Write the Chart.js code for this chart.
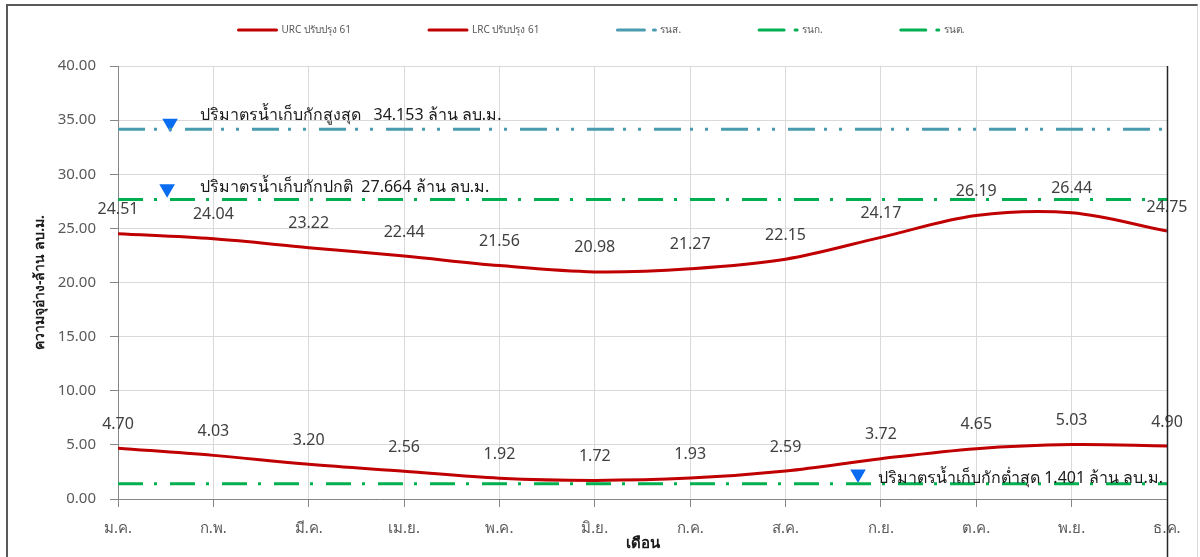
<!DOCTYPE html>
<html>
<head>
<meta charset="utf-8">
<script src="https://cdn.jsdelivr.net/npm/chart.js@4.4.0/dist/chart.umd.min.js"></script>
<style>
  html, body { margin: 0; padding: 0; background: #fff; }
  #wrap { position: relative; width: 1200px; height: 557px; overflow: hidden; }
  #frame { position: absolute; left: 6px; top: 4px; width: 1192px; height: 600px;
           border-top: 2px solid #595959; border-left: 2px solid #595959; border-right: 1px solid #d9d9d9; box-sizing: border-box; }
  canvas { position: absolute; left: 0; top: 0; }
</style>
</head>
<body>
<div id="wrap">
  <div id="frame"></div>
  <canvas id="c" width="1200" height="557"></canvas>
</div>
<script>
// ---- data ----
const months = ['ม.ค.', 'ก.พ.', 'มี.ค.', 'เม.ย.', 'พ.ค.', 'มิ.ย.', 'ก.ค.', 'ส.ค.', 'ก.ย.', 'ต.ค.', 'พ.ย.', 'ธ.ค.'];
const urc = [24.51, 24.04, 23.22, 22.44, 21.56, 20.98, 21.27, 22.15, 24.17, 26.19, 26.44, 24.75];
const lrc = [4.70, 4.03, 3.20, 2.56, 1.92, 1.72, 1.93, 2.59, 3.72, 4.65, 5.03, 4.90];
const maxStorage = 34.153;
const normalStorage = 27.664;
const minStorage = 1.401;
const seriesNames = ['URC ปรับปรุง 61', 'LRC ปรับปรุง 61', 'รนส.', 'รนก.', 'รนต.'];
const yTicks = [0, 5, 10, 15, 20, 25, 30, 35, 40];
const annotText = ['ปริมาตรน้ำเก็บกักสูงสุด   34.153 ล้าน ลบ.ม.', 'ปริมาตรน้ำเก็บกักปกติ  27.664 ล้าน ลบ.ม.', 'ปริมาตรน้ำเก็บกักต่ำสุด 1.401 ล้าน ลบ.ม.'];
const annotMarkX = [0.546, 0.515, 7.76];
const annotMarkY = [34.72, 28.66, 2.31];
const annotTextX = [0.86, 0.86, 7.97];
const annotTextY = [35.46, 28.8, 1.94];

const FONT = "'Noto Sans', 'DejaVu Sans', sans-serif";

const pts = arr => arr.map((v, i) => ({ x: i, y: v }));
const flat = v => months.map((m, i) => ({ x: i, y: v }));

const BLUE_DASH = [27, 9, 3, 12, 3, 13];
const GREEN_DASH = [25, 11, 3, 13];

const datasets = [
  { label: seriesNames[0], data: pts(urc), borderColor: '#c00000', borderWidth: 3, tension: 0.35, pointRadius: 0, showLabels: true },
  { label: seriesNames[1], data: pts(lrc), borderColor: '#c00000', borderWidth: 3, tension: 0.35, pointRadius: 0, showLabels: true },
  { label: seriesNames[2], data: flat(maxStorage), borderColor: '#4a9bb0', borderWidth: 3, borderDash: BLUE_DASH, pointRadius: 0 },
  { label: seriesNames[3], data: flat(normalStorage), borderColor: '#00b050', borderWidth: 3, borderDash: GREEN_DASH, pointRadius: 0 },
  { label: seriesNames[4], data: flat(minStorage), borderColor: '#00b050', borderWidth: 3, borderDash: GREEN_DASH, pointRadius: 0 },
  { label: 'marks', data: annotMarkX.map((x, i) => ({ x: x, y: annotMarkY[i] })), showLine: false,
    pointStyle: 'triangle', rotation: 180, pointRadius: 9, pointHoverRadius: 9,
    backgroundColor: '#0a6cf0', borderColor: '#0a6cf0', borderWidth: 0, isMarker: true }
];

const labelPlugin = {
  id: 'valueLabels',
  afterDatasetsDraw(chart) {
    const ctx = chart.ctx;
    ctx.save();
    ctx.font = '16px ' + FONT;
    ctx.fillStyle = '#404040';
    ctx.textAlign = 'center';
    ctx.textBaseline = 'middle';
    chart.data.datasets.forEach((ds, di) => {
      if (!ds.showLabels) return;
      const meta = chart.getDatasetMeta(di);
      meta.data.forEach((pt, i) => {
        ctx.fillText(ds.data[i].y.toFixed(2), pt.x, pt.y - 24);
      });
    });
    // annotation texts
    const xs = chart.scales.x, ys = chart.scales.y;
    ctx.font = '16px ' + FONT;
    ctx.fillStyle = '#1a1a1a';
    ctx.textAlign = 'left';
    annotText.forEach((t, i) => {
      ctx.fillText(t, xs.getPixelForValue(annotTextX[i]), ys.getPixelForValue(annotTextY[i]));
    });
    // right plot edge line
    ctx.strokeStyle = '#262626';
    ctx.lineWidth = 1.5;
    ctx.beginPath();
    ctx.moveTo(chart.chartArea.right + 0.5, chart.chartArea.top);
    ctx.lineTo(chart.chartArea.right + 0.5, chart.height);
    ctx.stroke();
    ctx.restore();
  }
};

const legendPlugin = {
  id: 'customLegend',
  afterDraw(chart) {
    const ctx = chart.ctx;
    ctx.save();
    ctx.font = '10px ' + FONT;
    ctx.textBaseline = 'middle';
    const items = chart.data.datasets.filter(d => !d.isMarker);
    const mw = 40, tg = 4, gap = 77;
    const widths = items.map(d => mw + tg + ctx.measureText(d.label).width);
    const total = widths.reduce((a, b) => a + b, 0) + gap * (items.length - 1);
    let x = 601 - total / 2;
    const y = 30;
    items.forEach((d, i) => {
      ctx.strokeStyle = d.borderColor;
      ctx.lineWidth = 3;
      ctx.lineCap = 'round';
      ctx.setLineDash(d.borderDash || []);
      ctx.beginPath();
      ctx.moveTo(x + 1, y);
      ctx.lineTo(x + mw - 1, y);
      ctx.stroke();
      ctx.setLineDash([]);
      ctx.fillStyle = '#595959';
      ctx.textAlign = 'left';
      ctx.fillText(d.label, x + mw + tg, y);
      x += widths[i] + gap;
    });
    ctx.restore();
  }
};

new Chart(document.getElementById('c'), {
  type: 'line',
  data: { datasets },
  options: {
    responsive: false,
    animation: false,
    events: [],
    layout: { padding: { top: 66, left: 25, right: 33, bottom: 0 } },
    plugins: { legend: { display: false }, tooltip: { enabled: false } },
    scales: {
      x: {
        type: 'linear', min: 0, max: months.length - 1,
        afterFit: s => { s.height = 58; },
        afterBuildTicks: s => { s.ticks = months.map((m, i) => ({ value: i })); },
        ticks: { callback: v => months[v], font: { size: 15, family: FONT }, color: '#595959', padding: 13, maxRotation: 0, autoSkip: false },
        grid: { color: '#d9d9d9', tickColor: '#868686', tickLength: 8 },
        border: { color: '#868686', width: 1 },
        title: { display: true, text: 'เดือน', font: { size: 15, weight: 'bold', family: FONT }, color: '#1a1a1a', padding: { top: 0, bottom: 4 } }
      },
      y: {
        min: 0, max: 40,
        afterFit: s => { s.width = 93; },
        afterBuildTicks: s => { s.ticks = yTicks.map(v => ({ value: v })); },
        ticks: { callback: v => v.toFixed(2), font: { size: 15, family: FONT }, color: '#595959', padding: 14 },
        grid: { color: '#d9d9d9', tickColor: '#868686', tickLength: 8 },
        border: { color: '#868686', width: 1 },
        title: { display: true, text: 'ความจุอ่าง-ล้าน ลบ.ม.', font: { size: 14, weight: 'bold', family: FONT }, color: '#1a1a1a', padding: { top: 7, bottom: 0 } }
      }
    }
  },
  plugins: [labelPlugin, legendPlugin]
});
</script>
</body>
</html>
